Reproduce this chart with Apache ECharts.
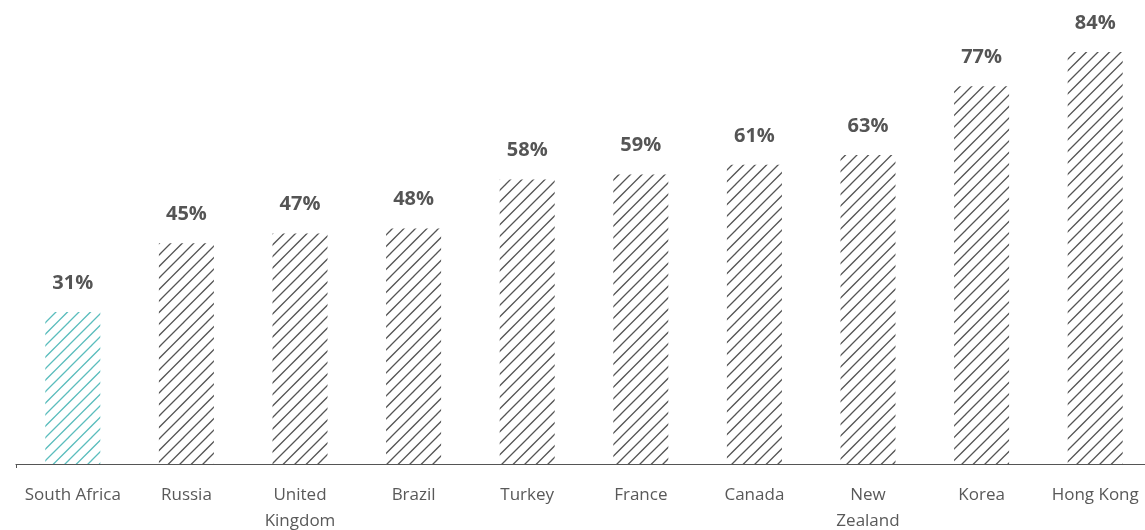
<!DOCTYPE html>
<html>
<head>
<meta charset="utf-8">
<script src="https://cdn.jsdelivr.net/npm/echarts@6/dist/echarts.min.js"></script>
<style>
  html, body { margin: 0; padding: 0; background: #fff; }
  #chart { width: 1145px; height: 530px; }
</style>
</head>
<body>
<div id="chart"></div>
<script>
const categories = ['South Africa', 'Russia', 'United\nKingdom', 'Brazil', 'Turkey', 'France', 'Canada', 'New\nZealand', 'Korea', 'Hong Kong'];
const values = [31, 45, 47, 48, 58, 59, 61, 63, 77, 84];
const highlight = 'South Africa';

// Diagonal hatch tile used as bar fill: lines x + y = c, spaced half a tile apart
function hatch(color) {
  const size = 23;
  const c = document.createElement('canvas');
  c.width = size; c.height = size;
  const ctx = c.getContext('2d');
  ctx.strokeStyle = color;
  ctx.lineWidth = 1.3;
  ctx.beginPath();
  for (let k = 0; k <= 4; k++) {
    const b = k * size / 2;
    ctx.moveTo(b + 2, -2);
    ctx.lineTo(b - size - 2, size + 2);
  }
  ctx.stroke();
  return { image: c, repeat: 'repeat' };
}

const greyFill = hatch('#555555');
const tealFill = hatch('#5bbdbd');

const chart = echarts.init(document.getElementById('chart'));
chart.setOption({
  animation: false,
  grid: { left: 16, width: 1136, top: 52, height: 412, outerBoundsMode: 'none', containLabel: false },
  xAxis: {
    type: 'category',
    data: categories,
    axisLine: { lineStyle: { color: '#555555', width: 1.2 } },
    axisTick: {
      show: true,
      interval: function (index) { return index === 0; },
      length: 4,
      lineStyle: { color: '#555555' }
    },
    axisLabel: {
      color: '#595959',
      fontFamily: 'Open Sans',
      fontSize: 17,
      lineHeight: 26,
      margin: 18,
      interval: 0
    }
  },
  yAxis: {
    type: 'value',
    min: 0,
    max: 84,
    show: false,
    splitLine: { show: false }
  },
  series: [{
    type: 'bar',
    barWidth: 55,
    data: values.map(function (v, i) {
      return {
        value: v,
        itemStyle: { color: categories[i] === highlight ? tealFill : greyFill }
      };
    }),
    label: {
      show: true,
      position: 'top',
      distance: 19,
      formatter: '{c}%',
      color: '#555555',
      fontFamily: 'Open Sans',
      fontWeight: 'bold',
      fontSize: 20
    }
  }]
});
</script>
</body>
</html>
